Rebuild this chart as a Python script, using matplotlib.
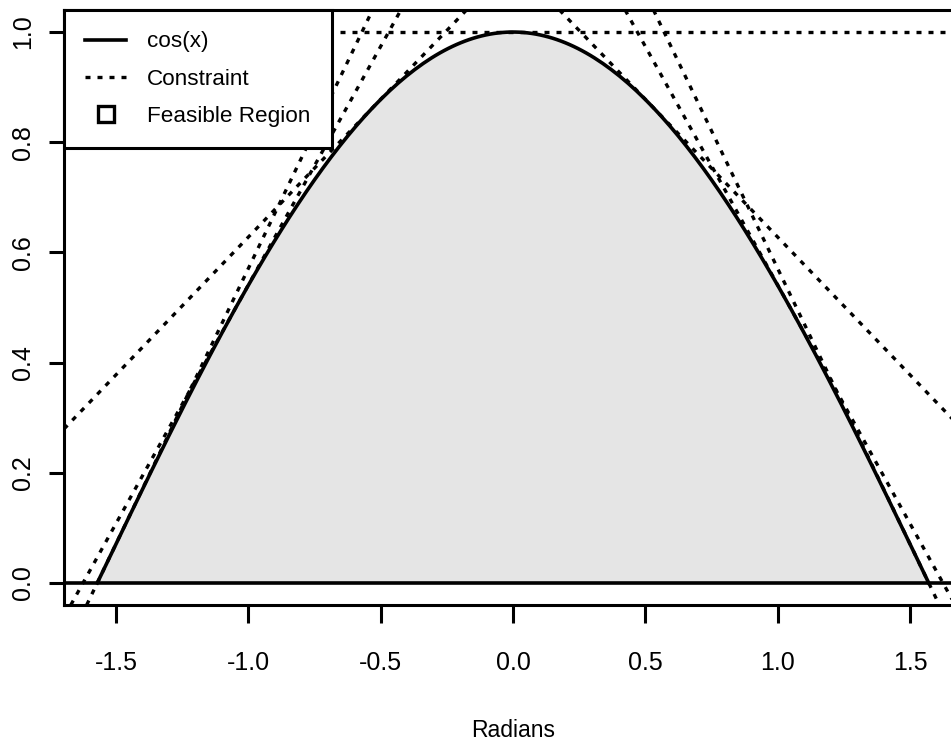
import numpy as np
import matplotlib
matplotlib.use("Agg")
import matplotlib.pyplot as plt
from matplotlib.lines import Line2D

plt.rcParams["font.family"] = ["Liberation Sans", "DejaVu Sans"]

# curve: cos(x) on [-pi/2, pi/2]
x = np.linspace(-np.pi / 2, np.pi / 2, 200)
y = np.cos(x)

# points where the tangent constraints touch the curve
tangent_points = [-np.pi / 2, -np.pi / 3, -np.pi / 6, 0.0, np.pi / 6, np.pi / 3, np.pi / 2]

x_ticks = [-1.5, -1.0, -0.5, 0.0, 0.5, 1.0, 1.5]
y_ticks = [0.0, 0.2, 0.4, 0.6, 0.8, 1.0]
legend_labels = ["cos(x)", "Constraint", "Feasible Region"]

fig = plt.figure(figsize=(9.51, 7.46), dpi=100)
ax = fig.add_axes([64 / 951, 141 / 746, 898 / 951, 595 / 746])

# feasible region
ax.fill_between(x, 0, y, color="#e5e5e5", lw=0)

# constraints (tangent lines)
dots = (0, (1.5, 2.1))
for a in tangent_points:
    ax.axline((a, np.cos(a)), slope=-np.sin(a), color="black", lw=2.4,
              linestyle=dots, zorder=2)

ax.plot(x, y, color="black", lw=2.6, zorder=3)
ax.axhline(0, color="black", lw=2.6, zorder=3)

ax.set_xlim(-np.pi / 2 * 1.08, np.pi / 2 * 1.08)
ax.set_ylim(-0.04, 1.04)
ax.set_xticks(x_ticks)
ax.set_xticklabels([f"{v:.1f}" for v in x_ticks])
ax.set_yticks(y_ticks)
ax.set_yticklabels([f"{v:.1f}" for v in y_ticks], rotation=90, va="center")

for s in ["left", "top", "bottom", "right"]:
    ax.spines[s].set_linewidth(2.2)
ax.tick_params(axis="x", length=13, width=2.2, pad=20, labelsize=18)
ax.tick_params(axis="y", length=11, width=2.2, pad=10, labelsize=18)
ax.set_xlabel("Radians", fontsize=16.5, labelpad=32)

handles = [
    Line2D([], [], color="black", lw=2.6),
    Line2D([], [], color="black", lw=2.4, linestyle=dots),
    Line2D([], [], color="black", lw=0, marker="s", markersize=11,
           markerfacecolor="white", markeredgewidth=2.4),
]
leg = ax.legend(handles, legend_labels, loc="upper left", bbox_to_anchor=(0, 1),
                borderaxespad=0, fancybox=False, framealpha=1, edgecolor="black",
                fontsize=16.2, handlelength=1.8, handletextpad=0.95,
                labelspacing=0.72, borderpad=0.95)
leg.get_frame().set_linewidth(2.2)

fig.savefig("out.png", dpi=100)
